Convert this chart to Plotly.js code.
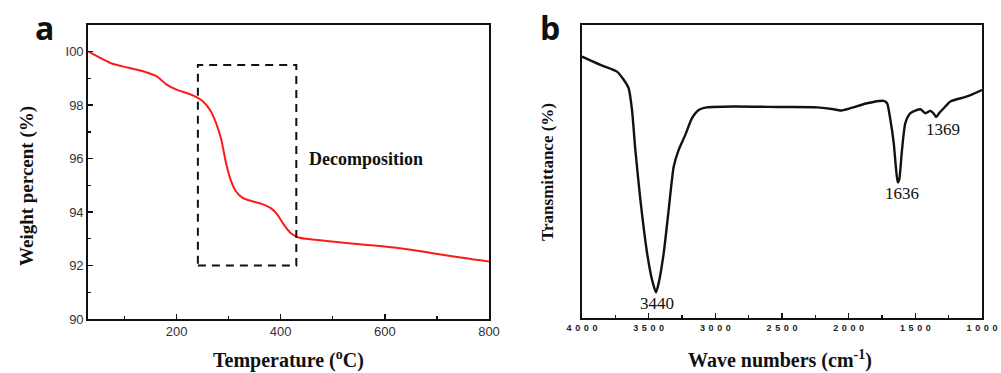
<!DOCTYPE html>
<html>
<head>
<meta charset="utf-8">
<script src="https://cdn.plot.ly/plotly-3.0.1.min.js"></script>
<style>html,body{margin:0;padding:0;background:#fff;}#chart{width:1001px;height:373px;}</style>
</head>
<body>
<div id="chart"></div>
<script>
// Panel a: TGA
const tgaTemp = [31, 48, 73, 105, 137, 162, 181, 200, 225, 241, 251, 264, 276, 286, 295, 305, 314, 327, 346, 365, 381, 394, 406, 419, 432, 448, 498, 562, 625, 689, 752, 800];
const tgaWeight = [100.0, 99.83, 99.58, 99.41, 99.26, 99.08, 98.77, 98.58, 98.42, 98.27, 98.14, 97.83, 97.33, 96.71, 95.84, 95.15, 94.78, 94.53, 94.40, 94.30, 94.15, 93.90, 93.53, 93.22, 93.07, 93.0, 92.9, 92.78, 92.66, 92.47, 92.28, 92.15];
const tgaTicks = [200, 400, 600, 800];
const tgaYTicks = [90, 92, 94, 96, 98, 100];
const tgaYTickText = ["90", "92", "94", "96", "98", "I00"];
const boxX = [241, 430];
const boxY = [92.0, 99.5];

// Panel b: FTIR
const irWave = [4000, 3862, 3737, 3687, 3650, 3625, 3600, 3562, 3512, 3475, 3445, 3425, 3387, 3350, 3312, 3275, 3225, 3175, 3125, 3062, 2862, 2500, 2237, 2112, 2062, 1987, 1862, 1737, 1712, 1687, 1662, 1645, 1632, 1620, 1600, 1575, 1537, 1462, 1425, 1387, 1360, 1345, 1320, 1287, 1237, 1112, 1000];
const irTrans = [89.2, 86.4, 84.1, 81.3, 78.4, 71.0, 57.4, 40.3, 22.2, 13.1, 8.8, 11.9, 22.2, 36.9, 51.7, 57.4, 62.5, 68.2, 71.0, 71.9, 72.2, 72.0, 71.9, 71.25, 70.8, 71.6, 73.3, 74.1, 73.3, 67.6, 59.7, 51.0, 46.3, 47.5, 57.4, 66.5, 69.9, 71.25, 69.9, 70.7, 69.6, 68.6, 70.0, 71.6, 73.9, 75.6, 77.8];
const irTicks = [4000, 3500, 3000, 2500, 2000, 1500, 1000];
const irTickText = irTicks.map(v => String(v).split('').join('\u2009\u2009'));
const peakWave = [3440, 1636, 1369];
const peakLabels = ["3440", "1636", "1369"];
const peakLabelY = [5, 42.5, 64.5];
const peakLabelX = [3440, 1600, 1290];

const serif = "Liberation Serif, Times New Roman, serif";
const sans = "Liberation Sans, Arial, sans-serif";

const traces = [
  {x: tgaTemp, y: tgaWeight, type: 'scatter', mode: 'lines', line: {color: '#ff1a1a', width: 2, shape: 'spline', smoothing: 0.8}, xaxis: 'x', yaxis: 'y', hoverinfo: 'skip'},
  {x: irWave, y: irTrans, type: 'scatter', mode: 'lines', line: {color: '#111', width: 2.4, shape: 'spline', smoothing: 0.6}, xaxis: 'x2', yaxis: 'y2', hoverinfo: 'skip'}
];

const axA = {showgrid: false, zeroline: false, showline: true, mirror: true, linecolor: '#111', linewidth: 1.8, ticks: 'inside', ticklen: 5, tickwidth: 1.5, tickcolor: '#111'};

const layout = {
  width: 1001, height: 373,
  margin: {l: 0, r: 0, t: 0, b: 0},
  paper_bgcolor: '#fff', plot_bgcolor: '#fff',
  showlegend: false,
  xaxis: Object.assign({}, axA, {domain: [88/1001, 489/1001], range: [30, 800], tickvals: tgaTicks,
    tickfont: {family: sans, size: 13, color: '#333'},
    minor: {tickvals: [100, 300, 500, 700], ticks: 'inside', ticklen: 3, tickwidth: 1.2, tickcolor: '#111'}, anchor: 'y'}),
  yaxis: Object.assign({}, axA, {domain: [1 - 319/373, 1 - 25/373], range: [90, 101], tickvals: tgaYTicks, ticktext: tgaYTickText,
    tickfont: {family: sans, size: 13, color: '#333'},
    minor: {tickvals: [91, 93, 95, 97, 99], ticks: 'inside', ticklen: 3, tickwidth: 1.2, tickcolor: '#111'}, anchor: 'x'}),
  xaxis2: Object.assign({}, axA, {domain: [582/1001, 982/1001], range: [4000, 1000], tickvals: irTicks, ticktext: irTickText,
    tickfont: {family: sans, size: 9, color: '#222', weight: 'bold'},
    minor: {tickvals: [3750, 3250, 2750, 2250, 1750, 1250], ticks: 'inside', ticklen: 3, tickwidth: 1.2, tickcolor: '#111'}, anchor: 'y2'}),
  yaxis2: Object.assign({}, axA, {domain: [1 - 318/373, 1 - 25/373], range: [0, 100], ticks: '', showticklabels: false, anchor: 'x2'}),
  shapes: [
    {type: 'rect', xref: 'x', yref: 'y', x0: boxX[0], x1: boxX[1], y0: boxY[0], y1: boxY[1], line: {color: '#111', width: 2, dash: '8px,6px'}}
  ],
  annotations: [
    {xref: 'x', yref: 'y', x: 451, y: 96.0, text: 'Decomposition', showarrow: false, xanchor: 'left', yanchor: 'middle', font: {family: serif, size: 18, color: '#111', weight: 'bold'}},
    {xref: 'paper', yref: 'paper', x: 44/1001, y: 1 - 27/373, text: 'a', showarrow: false, xanchor: 'center', yanchor: 'middle', font: {family: 'Open Sans, sans-serif', size: 32, color: '#111', weight: 'bold'}},
    {xref: 'paper', yref: 'paper', x: 550/1001, y: 1 - 27/373, text: 'b', showarrow: false, xanchor: 'center', yanchor: 'middle', font: {family: 'Open Sans, sans-serif', size: 32, color: '#111', weight: 'bold'}},
    {xref: 'paper', yref: 'paper', x: 27/1001, y: 1 - 186/373, text: 'Weight percent (%)', textangle: -90, showarrow: false, xanchor: 'center', yanchor: 'middle', font: {family: serif, size: 19, color: '#111', weight: 'bold'}},
    {xref: 'paper', yref: 'paper', x: 288/1001, y: 1 - 359/373, text: 'Temperature (<sup>o</sup>C)', showarrow: false, xanchor: 'center', yanchor: 'middle', font: {family: serif, size: 20, color: '#111', weight: 'bold'}},
    {xref: 'paper', yref: 'paper', x: 547/1001, y: 1 - 172/373, text: 'Transmittance (%)', textangle: -90, showarrow: false, xanchor: 'center', yanchor: 'middle', font: {family: serif, size: 17, color: '#111', weight: 'bold'}},
    {xref: 'paper', yref: 'paper', x: 780/1001, y: 1 - 359/373, text: 'Wave numbers (cm<sup>-1</sup>)', showarrow: false, xanchor: 'center', yanchor: 'middle', font: {family: serif, size: 20, color: '#111', weight: 'bold'}}
  ].concat(peakWave.map((w, i) => ({xref: 'x2', yref: 'y2', x: peakLabelX[i], y: peakLabelY[i], text: peakLabels[i], showarrow: false, xanchor: 'center', yanchor: 'middle', font: {family: serif, size: 17, color: '#111'}})))
};

Plotly.newPlot('chart', traces, layout, {staticPlot: true, displayModeBar: false});
</script>
</body>
</html>
